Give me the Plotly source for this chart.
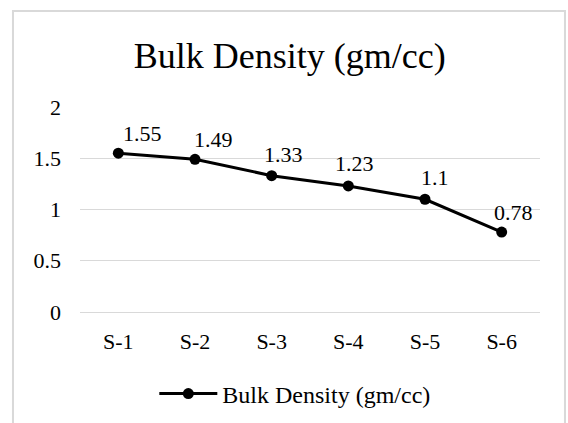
import plotly.graph_objects as go

# Sample identifiers and measured bulk density (gm/cc)
samples = ["S-1", "S-2", "S-3", "S-4", "S-5", "S-6"]
bulk_density = [1.55, 1.49, 1.33, 1.23, 1.1, 0.78]
y_ticks = [0, 0.5, 1, 1.5, 2]
y_tick_labels = ["0", "0.5", "1", "1.5", "2"]

# pixel nudges for the value labels so they sit above-right of each point
label_dx = [24, 18, 12, 6, 10, 12]
label_dy = [20, 20, 21, 22, 22, 20]

SERIF = "Liberation Serif, Times New Roman, serif"
GRID = "#d9d9d9"

fig = go.Figure()
fig.add_trace(go.Scatter(
    x=samples,
    y=bulk_density,
    mode="lines+markers",
    name="Bulk Density (gm/cc)",
    line=dict(color="#000000", width=3),
    marker=dict(color="#000000", size=11, symbol="circle"),
))

for s, v, dx, dy in zip(samples, bulk_density, label_dx, label_dy):
    fig.add_annotation(
        x=s, y=v, text=f"{v:g}", showarrow=False,
        xshift=dx, yshift=dy,
        font=dict(family=SERIF, size=22, color="#000000"),
    )

# chart-area frame
fig.add_shape(
    type="rect", xref="paper", yref="paper",
    x0=-0.1457, x1=1.0543, y0=-0.6, y1=1.4683,
    line=dict(color=GRID, width=2), fillcolor="rgba(0,0,0,0)", layer="below",
)

fig.update_layout(
    width=568, height=423,
    margin=dict(l=80, r=28, t=107, b=111, autoexpand=False),
    paper_bgcolor="white", plot_bgcolor="white",
    title=dict(
        text="Bulk Density (gm/cc)",
        x=0.51, xanchor="center", y=0.87, yanchor="middle",
        font=dict(family=SERIF, size=36, color="#000000"),
    ),
    xaxis=dict(
        type="category", range=[-0.5, 5.5],
        showgrid=False, showline=False, zeroline=False,
        tickfont=dict(family=SERIF, size=22, color="#000000"),
        ticklabelstandoff=14,
    ),
    yaxis=dict(
        range=[0, 2], tickvals=y_ticks, ticktext=y_tick_labels,
        showgrid=True, gridcolor=GRID, gridwidth=1,
        zeroline=True, zerolinecolor=GRID, zerolinewidth=1,
        showline=False,
        tickfont=dict(family=SERIF, size=22, color="#000000"),
        ticklabelstandoff=18,
    ),
    showlegend=True,
    legend=dict(
        orientation="h", x=0.467, xanchor="center", y=-0.4, yanchor="middle",
        font=dict(family=SERIF, size=24, color="#000000"),
        itemwidth=58, bgcolor="rgba(0,0,0,0)",
    ),
)

fig.write_html("out.html")
